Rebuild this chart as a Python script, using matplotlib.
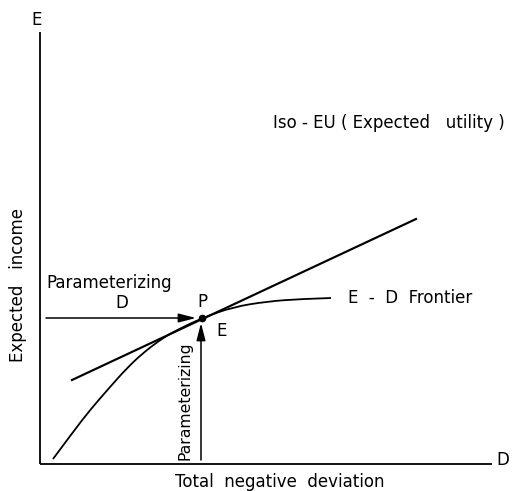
import matplotlib
matplotlib.use("Agg")
import matplotlib.pyplot as plt
from matplotlib.path import Path
from matplotlib.patches import PathPatch

# E-D frontier (D = total negative deviation, E = expected income)
frontier_D = [13, 33, 50, 70, 87, 103, 120, 133, 162, 193, 227, 260, 291]
frontier_E = [5, 32, 54, 77, 96, 111, 124, 132, 146, 157, 162.5, 165, 166]

# Iso-EU tangent line end points
iso_D = [32, 376]
iso_E = [84, 245]

# tangency point P
P_D = 162
P_E = 146

# axis extents
axis_D_max = 452
axis_E_max = 432

plt.rcParams['font.family'] = ['DejaVu Sans']
fig = plt.figure(figsize=(5.18, 4.91), dpi=100)
ax = fig.add_axes([0, 0, 1, 1])
ax.set_xlim(-40, 478)
ax.set_ylim(-27, 464)
ax.axis('off')

lw = 1.3
# axes
ax.plot([0, 0], [0, axis_E_max], color='black', lw=lw, solid_capstyle='butt')
ax.plot([0, axis_D_max], [0, 0], color='black', lw=lw, solid_capstyle='butt')

# smooth frontier: quadratic Bezier pieces through the midpoints of the read points
pts = list(zip(frontier_D, frontier_E))
verts = [pts[0]]
codes = [Path.MOVETO]
for i in range(1, len(pts) - 1):
    mid = ((pts[i][0] + pts[i + 1][0]) / 2, (pts[i][1] + pts[i + 1][1]) / 2)
    if i == len(pts) - 2:
        mid = pts[-1]
    verts += [pts[i], mid]
    codes += [Path.CURVE3, Path.CURVE3]
ax.add_patch(PathPatch(Path(verts, codes), facecolor='none', edgecolor='black', lw=lw))

ax.plot(iso_D, iso_E, color='black', lw=lw * 1.2)
ax.plot([P_D], [P_E], 'o', color='black', ms=4.5)

# arrows
astyle = '-|>,head_length=0.7,head_width=0.18'
ax.annotate('', xy=(P_D - 6, P_E), xytext=(6, P_E),
            arrowprops=dict(arrowstyle=astyle, color='black', lw=1.1,
                            mutation_scale=15, shrinkA=0, shrinkB=0))
ax.annotate('', xy=(P_D - 1, P_E - 5), xytext=(P_D - 1, 4),
            arrowprops=dict(arrowstyle=astyle, color='black', lw=1.1,
                            mutation_scale=15, shrinkA=0, shrinkB=0))

fs = 12
ax.text(-3, 444, 'E', fontsize=fs, ha='center', va='center')
ax.text(463, 4, 'D', fontsize=fs, ha='center', va='center')
ax.text(233, 341, 'Iso - EU ( Expected   utility )', fontsize=fs, ha='left', va='center')
ax.text(6, 181, 'Parameterizing', fontsize=fs, ha='left', va='center')
ax.text(82, 161, 'D', fontsize=fs, ha='center', va='center')
ax.text(162, 162, 'P', fontsize=fs, ha='center', va='center')
ax.text(182, 133, 'E', fontsize=fs, ha='center', va='center')
ax.text(308, 166, 'E  -  D  Frontier', fontsize=fs, ha='left', va='center')
ax.text(145, 63, 'Parameterizing', fontsize=11.3, ha='center', va='center', rotation=90)
ax.text(-22, 179, 'Expected   income', fontsize=fs, ha='center', va='center', rotation=90)
ax.text(240, -18, 'Total  negative  deviation', fontsize=fs, ha='center', va='center')

fig.savefig('out.png', dpi=100)
